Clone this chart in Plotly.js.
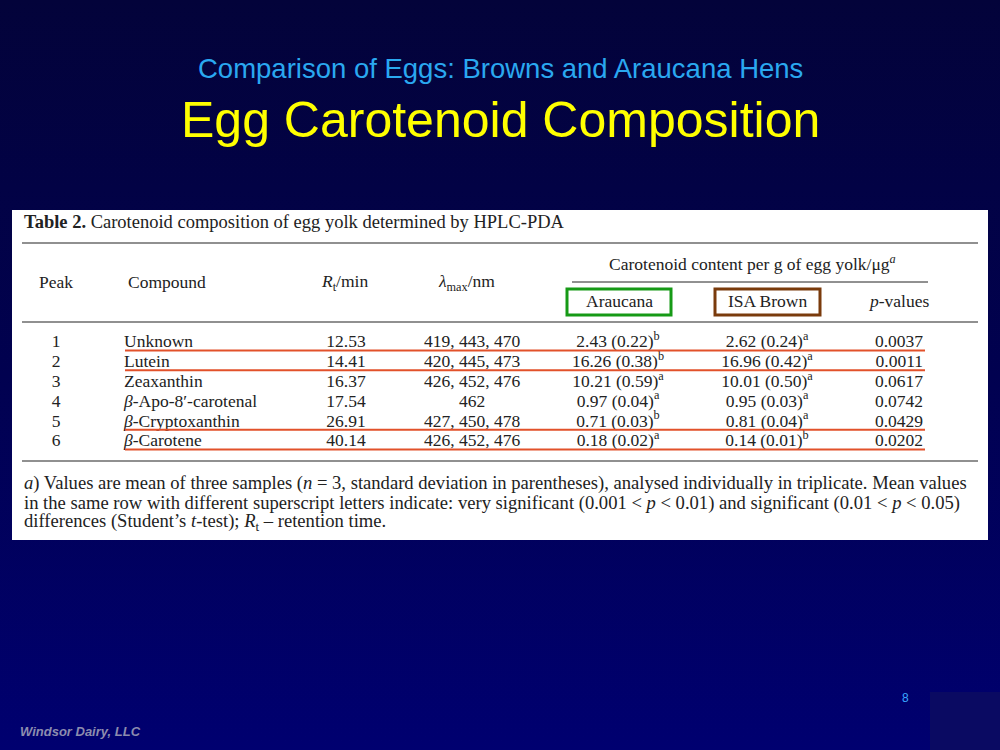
<!DOCTYPE html>
<html>
<head>
<meta charset="utf-8">
<script src="https://cdn.plot.ly/plotly-3.0.1.min.js"></script>
<style>
  html, body { margin: 0; padding: 0; }
  body { width: 1000px; height: 750px; background: linear-gradient(#03033a 0%, #010150 50%, #000070 100%); overflow: hidden; }
  #chart { width: 1000px; height: 750px; }
</style>
</head>
<body>
<div id="chart"></div>
<script>
// table content
const peaks = ["1", "2", "3", "4", "5", "6"];
const compounds = ["Unknown", "Lutein", "Zeaxanthin", "<i>β</i>-Apo-8′-carotenal", "<i>β</i>-Cryptoxanthin", "<i>β</i>-Carotene"];
const retention = ["12.53", "14.41", "16.37", "17.54", "26.91", "40.14"];
const lambdaMax = ["419, 443, 470", "420, 445, 473", "426, 452, 476", "462", "427, 450, 478", "426, 452, 476"];
const araucanaMean = ["2.43", "16.26", "10.21", "0.97", "0.71", "0.18"];
const araucanaSd = ["0.22", "0.38", "0.59", "0.04", "0.03", "0.02"];
const araucanaSig = ["b", "b", "a", "a", "b", "a"];
const isaMean = ["2.62", "16.96", "10.01", "0.95", "0.81", "0.14"];
const isaSd = ["0.24", "0.42", "0.50", "0.03", "0.04", "0.01"];
const isaSig = ["a", "a", "a", "a", "a", "b"];
const pValues = ["0.0037", "0.0011", "0.0617", "0.0742", "0.0429", "0.0202"];
const highlighted = [0, 1, 4, 5];   // rows underlined in red

const footnote = [
  "<i>a</i>) Values are mean of three samples (<i>n</i> = 3, standard deviation in parentheses), analysed individually in triplicate. Mean values",
  "in the same row with different superscript letters indicate: very significant (0.001 &lt; <i>p</i> &lt; 0.01) and significant (0.01 &lt; <i>p</i> &lt; 0.05)",
  "differences (Student’s <i>t</i>-test); <i>R</i><sub>t</sub> – retention time."
];

const SERIF = "Liberation Serif, DejaVu Serif, serif";
const SANS = "Liberation Sans, Arial, sans-serif";
const INK = "#222";
const BODY = 17.5;
const rowY = i => 343 + i * 19.8;
const ys = peaks.map((_, i) => rowY(i));

function col(x, text, pos) {
  return {
    type: "scatter", mode: "text", x: text.map(() => x), y: ys, text: text,
    textposition: pos || "middle center", hoverinfo: "skip", showlegend: false,
    textfont: { family: SERIF, size: BODY, color: INK }
  };
}

const fmt = (m, s, g) => m.map((v, i) => `${v} (${s[i]})<sup>${g[i]}</sup>`);

const traces = [
  col(56, peaks),
  col(124, compounds, "middle right"),
  col(346, retention),
  col(472, lambdaMax),
  col(618, fmt(araucanaMean, araucanaSd, araucanaSig)),
  col(767, fmt(isaMean, isaSd, isaSig)),
  col(923, pValues, "middle left")
];

const hline = (y, x0, x1, color, w) => ({
  type: "line", xref: "x", yref: "y", x0: x0, x1: x1, y0: y, y1: y,
  line: { color: color, width: w }
});

const shapes = [
  hline(243, 22, 978, INK, 1.2),
  hline(282, 572, 928, INK, 1),
  hline(322, 22, 978, INK, 1.2),
  hline(461, 22, 978, INK, 1.2),
  { type: "rect", xref: "x", yref: "y", x0: 567, x1: 671, y0: 289, y1: 315, line: { color: "#169a16", width: 3 } },
  { type: "rect", xref: "x", yref: "y", x0: 715, x1: 820, y0: 289, y1: 315, line: { color: "#7a3b0c", width: 3 } },
  // logo placeholder
  { type: "rect", xref: "paper", yref: "paper", x0: 0.93, x1: 1, y0: 0, y1: 58 / 750, fillcolor: "#0a0a62", line: { width: 0 } }
];
highlighted.forEach(i => shapes.push(hline(rowY(i) + 7.5, 125, 925, "#e2512a", 2)));

const txt = (x, y, text, opts) => Object.assign({
  xref: "x", yref: "y", x: x, y: y, text: text, showarrow: false, yanchor: "middle",
  font: { family: SERIF, size: BODY, color: INK }
}, opts || {});

const page = (px, py, text, font, extra) => Object.assign({
  xref: "paper", yref: "paper", x: px / 1000, y: 1 - py / 750, text: text, showarrow: false,
  yanchor: "middle", font: font
}, extra || {});

const annotations = [
  page(500, 69, "Comparison of Eggs: Browns and Araucana Hens", { family: SANS, size: 27.5, color: "#2aa8f0" }),
  page(500, 120, "Egg Carotenoid Composition", { family: SANS, size: 50, color: "#ffff00" }),
  txt(22, 222, "<b>Table 2.</b> Carotenoid composition of egg yolk determined by HPLC-PDA",
    { xanchor: "left", font: { family: SERIF, size: 18.5, color: INK } }),
  txt(56, 282, "Peak"),
  txt(126, 282, "Compound", { xanchor: "left" }),
  txt(344, 282, "<i>R</i><sub>t</sub>/min"),
  txt(466, 282, "<i>λ</i><sub>max</sub>/nm"),
  txt(752, 263, "Carotenoid content per g of egg yolk/μg<sup><i>a</i></sup>"),
  txt(619, 301, "Araucana"),
  txt(767, 301, "ISA Brown"),
  txt(898, 301, "<i>p</i>-values"),
  page(18, 731, "<b><i>Windsor Dairy, LLC</i></b>", { family: SANS, size: 13, color: "#8c8cae" }, { xanchor: "left" }),
  page(911, 698, "8", { family: SANS, size: 12, color: "#3aa8ff" })
];
footnote.forEach((line, i) => annotations.push(
  txt(22, 483 + i * 19.5, line, { xanchor: "left", font: { family: SERIF, size: 18.6, color: INK } })
));

const layout = {
  width: 1000, height: 750,
  margin: { l: 0, r: 0, t: 0, b: 0, pad: 0 },
  paper_bgcolor: "rgba(0,0,0,0)",
  plot_bgcolor: "#ffffff",
  xaxis: { domain: [12 / 1000, 988 / 1000], range: [12, 988], visible: false, fixedrange: true },
  yaxis: { domain: [210 / 750, 540 / 750], range: [540, 210], visible: false, fixedrange: true },
  shapes: shapes,
  annotations: annotations,
  showlegend: false
};

Plotly.newPlot("chart", traces, layout, { staticPlot: true, displayModeBar: false });
</script>
</body>
</html>
